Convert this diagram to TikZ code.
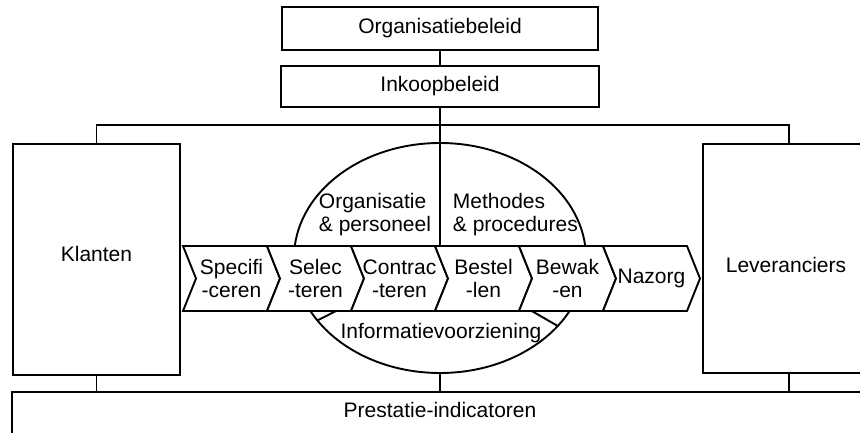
\documentclass[tikz,border=0pt]{standalone}
\usepackage{fontspec}
\setmainfont{Liberation Sans}
\usepackage{tikz}
\usetikzlibrary{shapes.geometric}

\begin{document}
\begin{tikzpicture}[
  x=1pt, y=-1pt,
  font=\fontsize{21}{23}\selectfont,
  line width=1.9pt,
  % rectangular boxes
  box/.style={rectangle,draw=black,inner sep=0pt,outer sep=0pt},
  % process steps (chevrons)
  chevron/.style={draw=black,fill=white,line join=miter},
  stapnaam/.style={align=center,inner sep=0pt},
  line/.style={draw=black}
]

\useasboundingbox (0,0) rectangle (860,433);
\clip (0,0) rectangle (860,433);

\node[box,minimum width=316pt,minimum height=43pt] (orgbeleid) at (440,28.5) {Organisatiebeleid};  % top
\node[box,minimum width=318pt,minimum height=41pt] (inkoop) at (440,86.5) {Inkoopbeleid};

\node[box,minimum width=167pt,minimum height=231pt] (klanten) at (96.5,259.5) {};  % left
\node (klantentxt) at (96.5,254) {Klanten};
\node[box,minimum width=172pt,minimum height=229pt] (lev) at (789,258.5) {};  % right
\node (levtxt) at (786,265) {Leveranciers};

\node[box,minimum width=856pt,minimum height=60pt] (prest) at (440,422) {};  % bottom
\node (presttxt) at (440,410) {Prestatie-indicatoren};

% the core: ellipse in three parts
\node[ellipse,draw=black,inner sep=0pt,outer sep=0pt,
      minimum width=292pt,minimum height=230pt] (kern) at (440,258) {};
\draw[line] (kern.center)--(kern.207.5);
\draw[line] (kern.center)--(kern.330.6);

\node[align=left,anchor=west,inner sep=0pt] (orgpers) at (318,214.5) {Organisatie\\\& personeel};
\node[align=left,anchor=west,inner sep=0pt] (methodes) at (452,214.5) {Methodes\\\& procedures};
\node[inner sep=0pt] (info) at (441,333) {Informatievoorziening};

% edges — explicit
\coordinate (bus) at (440,125);
\draw[line] (orgbeleid)--(inkoop);
\draw[line] (inkoop.south)--(kern.center);
\draw[line] (klanten.north) |- (bus) -| (lev.north);
\draw[line] (klanten.south)--(klanten.south |- prest.north);
\draw[line] (kern.south)--(kern.south |- prest.north);
\draw[line] (lev.south)--(lev.south |- prest.north);

% process chain
\foreach \i/\lbl [evaluate=\i as \xa using 183+84*\i] in
  {0/{Specifi\\-ceren},1/{Selec\\-teren},2/{Contrac\\-teren},
   3/{Bestel\\-len},4/{Bewak\\-en},5/{Nazorg}}
{
  \draw[chevron] (\xa,246)--({\xa+84},246)--({\xa+97},278.5)--({\xa+84},311)
    --(\xa,311)--({\xa+13},278.5)--cycle;
  \node[stapnaam] (stap\i) at ({\xa+48.5},278.5) {\lbl};
}

\end{tikzpicture}
\end{document}
